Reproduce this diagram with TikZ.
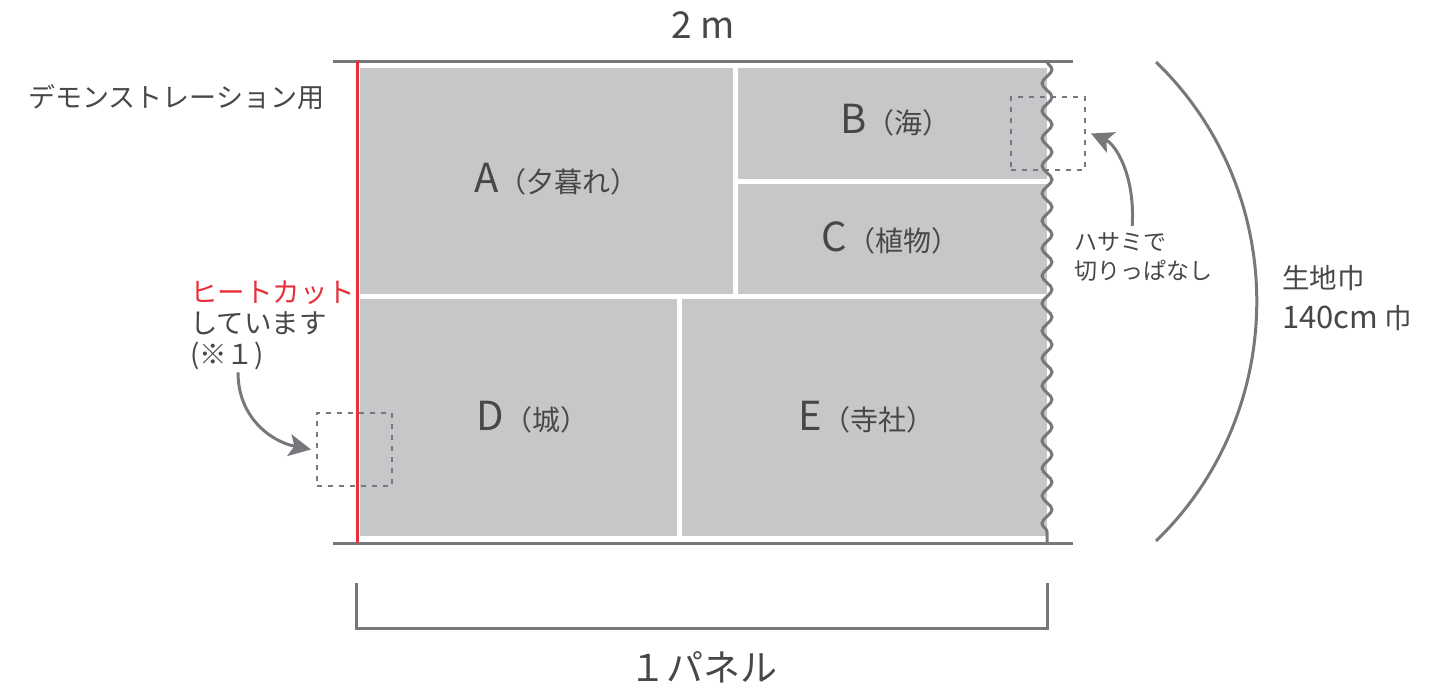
\documentclass[tikz,border=0pt]{standalone}
\usepackage{fontspec}
\setmainfont{Noto Sans CJK JP}
\usetikzlibrary{arrows.meta,decorations.pathmorphing}
\definecolor{cloth}{HTML}{C6C7C9}
\definecolor{ink}{HTML}{474747}
\definecolor{edge}{HTML}{77787B}
\definecolor{heat}{HTML}{E8303A}
\newcommand{\plabel}[2]{{\fontsize{40}{40}\selectfont #1}{\fontsize{28}{28}\selectfont #2}}
\tikzset{pnl/.append style={fill=cloth, inner sep=0},
         txt/.append style={text=ink, inner sep=0},
         gl/.append style={draw=edge, line width=3},
         dbox/.append style={draw=edge, line width=2, dash pattern=on 5pt off 6pt, inner sep=0},
         arr/.append style={draw=edge, line width=3, -{Stealth[length=22pt,width=22pt,inset=5pt]}}}

\begin{document}
\begin{tikzpicture}[x=1pt, y=-1pt]
                \useasboundingbox (0,0) rectangle (1447,686);
                % panels
                \node[pnl, minimum width=373, minimum height=226] (A) at (546.5,181) {};
                \node[pnl, minimum width=309, minimum height=111] (B) at (892.5,123.5) {};
                \node[pnl, minimum width=309, minimum height=110] (C) at (892.5,239) {};
                \node[pnl, minimum width=317, minimum height=237] (D) at (518.5,417.5) {};
                \node[pnl, minimum width=365, minimum height=237] (E) at (864.5,417.5) {};
                \node[txt] (Atext) at ([shift={(10,-2)}]A.center) {\plabel{A}{（夕暮れ）}};
                \node[txt] (Btext) at ([shift={(3,-3)}]B.center) {\plabel{B}{（海）}};
                \node[txt] (Ctext) at ([shift={(-2,-1)}]C.center) {\plabel{C}{（植物）}};
                \node[txt] (Dtext) at ([shift={(14,0)}]D.center) {\plabel{D}{（城）}};
                \node[txt] (Etext) at ([shift={(2,0)}]E.center) {\plabel{E}{（寺社）}};
                % cloth edges
                \draw[gl] (333,61) -- (1073,61);
                \draw[gl] (333,543) -- (1073,543);
                \draw[heat, line width=3] (357,61) -- (357,543);
                \draw[gl, decorate, decoration={snake, amplitude=5, segment length=27.5}] (1047,61) -- (1047,543);
                \draw[gl] (1156,62) to[bend left=46] (1156,541);
                \draw[gl] (356,583) -- (356,628) -- (1047,628) -- (1047,583);
                % dashed boxes
                \node[dbox, minimum width=74, minimum height=73] (boxB) at (1048,133.5) {};
                \node[dbox, minimum width=75, minimum height=73] (boxD) at (354.5,449.5) {};
                % texts
                \node[txt, font=\fontsize{37}{37}\selectfont] (width) at (703,25) {2 m};
                \node[txt, anchor=west, font=\fontsize{27}{27}\selectfont] (demo) at (28,97) {デモンストレーション用};
                \node[txt, anchor=north west, align=left, font=\fontsize{27.5}{31}\selectfont] (heatcut) at (190,281) {\textcolor{heat}{ヒートカット}\\しています\\(※１)};
                \node[txt, anchor=north west, align=left, font=\fontsize{23}{29}\selectfont] (hasami) at (1074,232) {ハサミで\\切りっぱなし};
                \node[txt, anchor=west, align=left, font=\fontsize{27.5}{40}\selectfont] (fabric) at (1282,298) {生地巾\\{\fontsize{31}{40}\selectfont 140cm} 巾};
                \node[txt, font=\fontsize{37}{37}\selectfont] (panel) at (703,667) {１パネル};
                % arrows
                \draw[arr] ([shift={(-11,-6)}]hasami.north) .. controls +(3,-50) and +(25,11) .. ([xshift=5]boxB.east);
                \draw[arr] ([shift={(48,2)}]heatcut.south west) .. controls +(0,45) and +(-40,-8) .. ([xshift=-5]boxD.west);
            \end{tikzpicture}
\end{document}
